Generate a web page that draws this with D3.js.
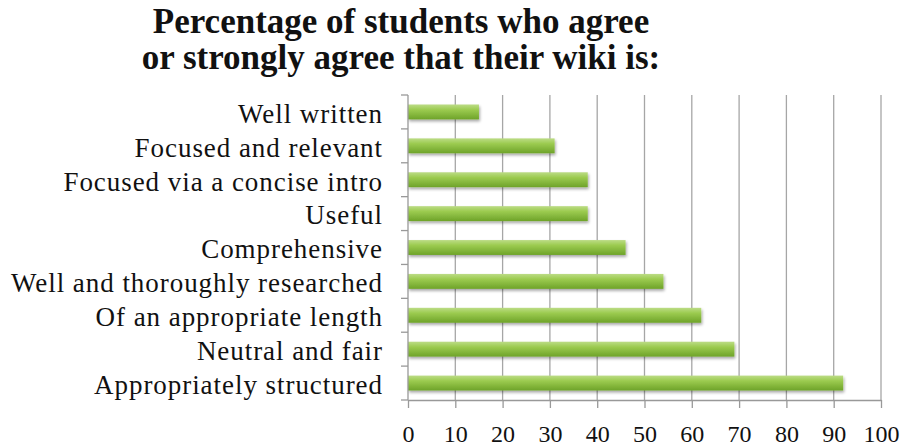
<!DOCTYPE html>
<html>
<head>
<meta charset="utf-8">
<script src="https://cdn.jsdelivr.net/npm/d3@7"></script>
<style>
  body { margin: 0; background: #fff; }
  svg { display: block; }
  text { font-family: "Liberation Serif", "Times New Roman", serif; fill: #111; }
</style>
</head>
<body>
<div id="chart"></div>
<script>
var categories = [
  "Well written",
  "Focused and relevant",
  "Focused via a concise intro",
  "Useful",
  "Comprehensive",
  "Well and thoroughly researched",
  "Of an appropriate length",
  "Neutral and fair",
  "Appropriately structured"
];
var values = [15, 31, 38, 38, 46, 54, 62, 69, 92];
var xTicks = [0, 10, 20, 30, 40, 50, 60, 70, 80, 90, 100];
var titleLines = ["Percentage of students who agree", "or strongly agree that their wiki is:"];

var width = 906, height = 448;
var margin = {top: 95, right: 25, bottom: 48, left: 408};

var svg = d3.select("#chart").append("svg")
  .attr("width", width)
  .attr("height", height);

var defs = svg.append("defs");
var grad = defs.append("linearGradient")
  .attr("id", "barGrad")
  .attr("x1", 0).attr("y1", 0).attr("x2", 0).attr("y2", 1);
grad.append("stop").attr("offset", "0%").attr("stop-color", "#bcdc86");
grad.append("stop").attr("offset", "35%").attr("stop-color", "#9ccb50");
grad.append("stop").attr("offset", "100%").attr("stop-color", "#6ea329");

var shadow = defs.append("filter").attr("id", "shadow")
  .attr("x", "-5%").attr("y", "-40%").attr("width", "110%").attr("height", "190%");
shadow.append("feGaussianBlur").attr("in", "SourceAlpha").attr("stdDeviation", 1.5);
shadow.append("feOffset").attr("dx", 1).attr("dy", 1.5).attr("result", "blur");
shadow.append("feComponentTransfer").append("feFuncA").attr("type", "linear").attr("slope", 0.35);
var merge = shadow.append("feMerge");
merge.append("feMergeNode");
merge.append("feMergeNode").attr("in", "SourceGraphic");

var x = d3.scaleLinear()
  .domain([0, 100])
  .range([margin.left, width - margin.right]);

var y = d3.scaleBand()
  .domain(categories)
  .range([margin.top, height - margin.bottom])
  .paddingInner(0.56)
  .paddingOuter(0.28);

// title
svg.append("g").selectAll("text")
  .data(titleLines)
  .enter()
  .append("text")
  .attr("x", 401)
  .attr("y", function(d, i) { return 33 + i * 36; })
  .attr("text-anchor", "middle")
  .style("font-size", "35px")
  .style("font-weight", "bold")
  .text(function(d) { return d; });

// vertical gridlines
svg.append("g").selectAll("line")
  .data(xTicks.slice(1))
  .enter()
  .append("line")
  .attr("x1", function(d) { return x(d); })
  .attr("x2", function(d) { return x(d); })
  .attr("y1", margin.top)
  .attr("y2", height - margin.bottom)
  .attr("stroke", "#a6a6a6")
  .attr("stroke-width", 1.3);

// bars
svg.append("g").selectAll("rect")
  .data(values)
  .enter()
  .append("rect")
  .attr("x", x(0))
  .attr("y", function(d, i) { return y(categories[i]); })
  .attr("width", function(d) { return x(d) - x(0); })
  .attr("height", y.bandwidth())
  .attr("fill", "url(#barGrad)")
  .attr("filter", "url(#shadow)");

// x axis
var xAxis = svg.append("g")
  .attr("transform", "translate(0," + (height - margin.bottom) + ")")
  .call(d3.axisBottom(x).tickValues(xTicks).tickSize(8).tickSizeOuter(0).tickPadding(17));
xAxis.select(".domain").attr("stroke", "#999").attr("stroke-width", 1.3);
xAxis.selectAll(".tick line").attr("stroke", "#999").attr("stroke-width", 1.3);
xAxis.selectAll(".tick text")
  .style("font-size", "24px")
  .style("font-family", "'Liberation Serif', serif")
  .attr("fill", "#111");

// y axis: ticks on band boundaries
var yAxisG = svg.append("g");
yAxisG.append("line")
  .attr("x1", x(0)).attr("x2", x(0))
  .attr("y1", margin.top).attr("y2", height - margin.bottom)
  .attr("stroke", "#999").attr("stroke-width", 1.3);
var step = y.step();
var boundaries = categories.map(function(c) { return y(c) - (step - y.bandwidth()) / 2; });
boundaries.push(height - margin.bottom);
yAxisG.selectAll("line.tk")
  .data(boundaries)
  .enter()
  .append("line")
  .attr("class", "tk")
  .attr("x1", x(0) - 7).attr("x2", x(0))
  .attr("y1", function(d) { return d; })
  .attr("y2", function(d) { return d; })
  .attr("stroke", "#999").attr("stroke-width", 1.3);

yAxisG.selectAll("text")
  .data(categories)
  .enter()
  .append("text")
  .attr("x", 383)
  .attr("y", function(d) { return y(d) + y.bandwidth() / 2; })
  .attr("dy", "0.4em")
  .attr("text-anchor", "end")
  .style("font-size", "27px")
  .style("letter-spacing", "0.95px")
  .text(function(d) { return d; });
</script>
</body>
</html>
